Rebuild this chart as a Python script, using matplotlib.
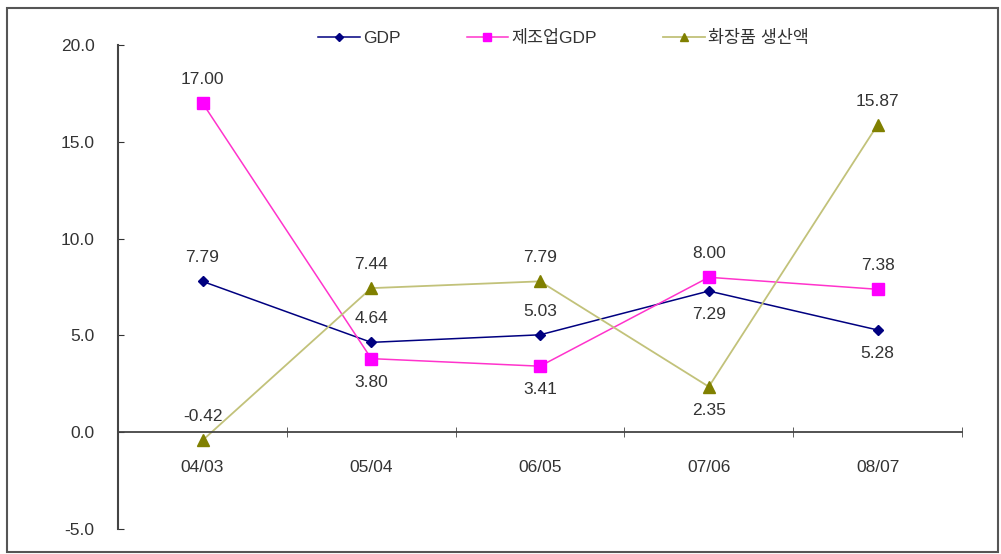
import matplotlib
matplotlib.use("Agg")
import matplotlib.pyplot as plt
from matplotlib.patches import Rectangle

plt.rcParams['font.family'] = ['Liberation Sans', 'Noto Sans CJK KR', 'DejaVu Sans']

categories = ["04/03", "05/04", "06/05", "07/06", "08/07"]
gdp = [7.79, 4.64, 5.03, 7.29, 5.28]
mfg_gdp = [17.00, 3.80, 3.41, 8.00, 7.38]
cosmetics = [-0.42, 7.44, 7.79, 2.35, 15.87]
series_names = ["GDP", "제조업GDP", "화장품 생산액"]
y_ticks = [-5.0, 0.0, 5.0, 10.0, 15.0, 20.0]

# label placement per point: +1 above, -1 below
gdp_pos = [1, 1, 1, -1, -1]
mfg_pos = [1, -1, -1, 1, 1]
cos_pos = [1, 1, 1, -1, 1]

FS = 12.5
txt_color = '#333333'

fig = plt.figure(figsize=(10.01, 5.54), dpi=100)
fig.patches.append(Rectangle((0.007, 0.004), 0.99, 0.982, transform=fig.transFigure,
                             fill=False, edgecolor='#555555', linewidth=1.5))
ax = fig.add_axes([0.118, 0.045, 0.843, 0.874])

x = list(range(len(categories)))
ax.plot(x, gdp, color='#000080', marker='D', markersize=5.5, linewidth=1.1,
        label=series_names[0])
ax.plot(x, mfg_gdp, color='#FF33CC', marker='s', markersize=8,
        markerfacecolor='#FF00FF', markeredgecolor='#FF00FF', linewidth=1.1,
        label=series_names[1])
ax.plot(x, cosmetics, color='#C2C27A', marker='^', markersize=8,
        markerfacecolor='#808000', markeredgecolor='#808000', linewidth=1.3,
        label=series_names[2])

for vals, pos in [(gdp, gdp_pos), (mfg_gdp, mfg_pos), (cosmetics, cos_pos)]:
    for i, (v, p) in enumerate(zip(vals, pos)):
        ax.annotate(f"{v:.2f}", (i, v), xytext=(0, 17 * p), textcoords='offset points',
                    ha='center', va='center', fontsize=FS, color=txt_color)

ax.set_xlim(-0.5, len(categories) - 0.5)
ax.set_ylim(-5, 20)
ax.set_yticks(y_ticks)
ax.set_yticklabels([f"{t:.1f}" for t in y_ticks], fontsize=FS, color=txt_color)
ax.tick_params(axis='y', direction='in', length=4, pad=17, color='#333333')

ax.spines['top'].set_visible(False)
ax.spines['right'].set_visible(False)
ax.spines['left'].set_color('#444444')
ax.spines['left'].set_linewidth(1.5)
ax.spines['bottom'].set_position(('data', 0))
ax.spines['bottom'].set_color('#444444')
ax.spines['bottom'].set_linewidth(1.3)

ax.set_xticks(x)
ax.set_xticklabels(categories, fontsize=FS, color=txt_color)
ax.tick_params(axis='x', which='major', length=0, pad=20)
ax.set_xticks([i + 0.5 for i in x], minor=True)
ax.tick_params(axis='x', which='minor', direction='inout', length=7, color='#444444')

leg = ax.legend(loc='center', bbox_to_anchor=(0.528, 1.014), ncol=3, frameon=False,
                fontsize=FS, handlelength=2.4, columnspacing=3.8, handletextpad=0.2,
                labelcolor=txt_color, markerscale=0.8)

fig.savefig("out.png", dpi=100)
